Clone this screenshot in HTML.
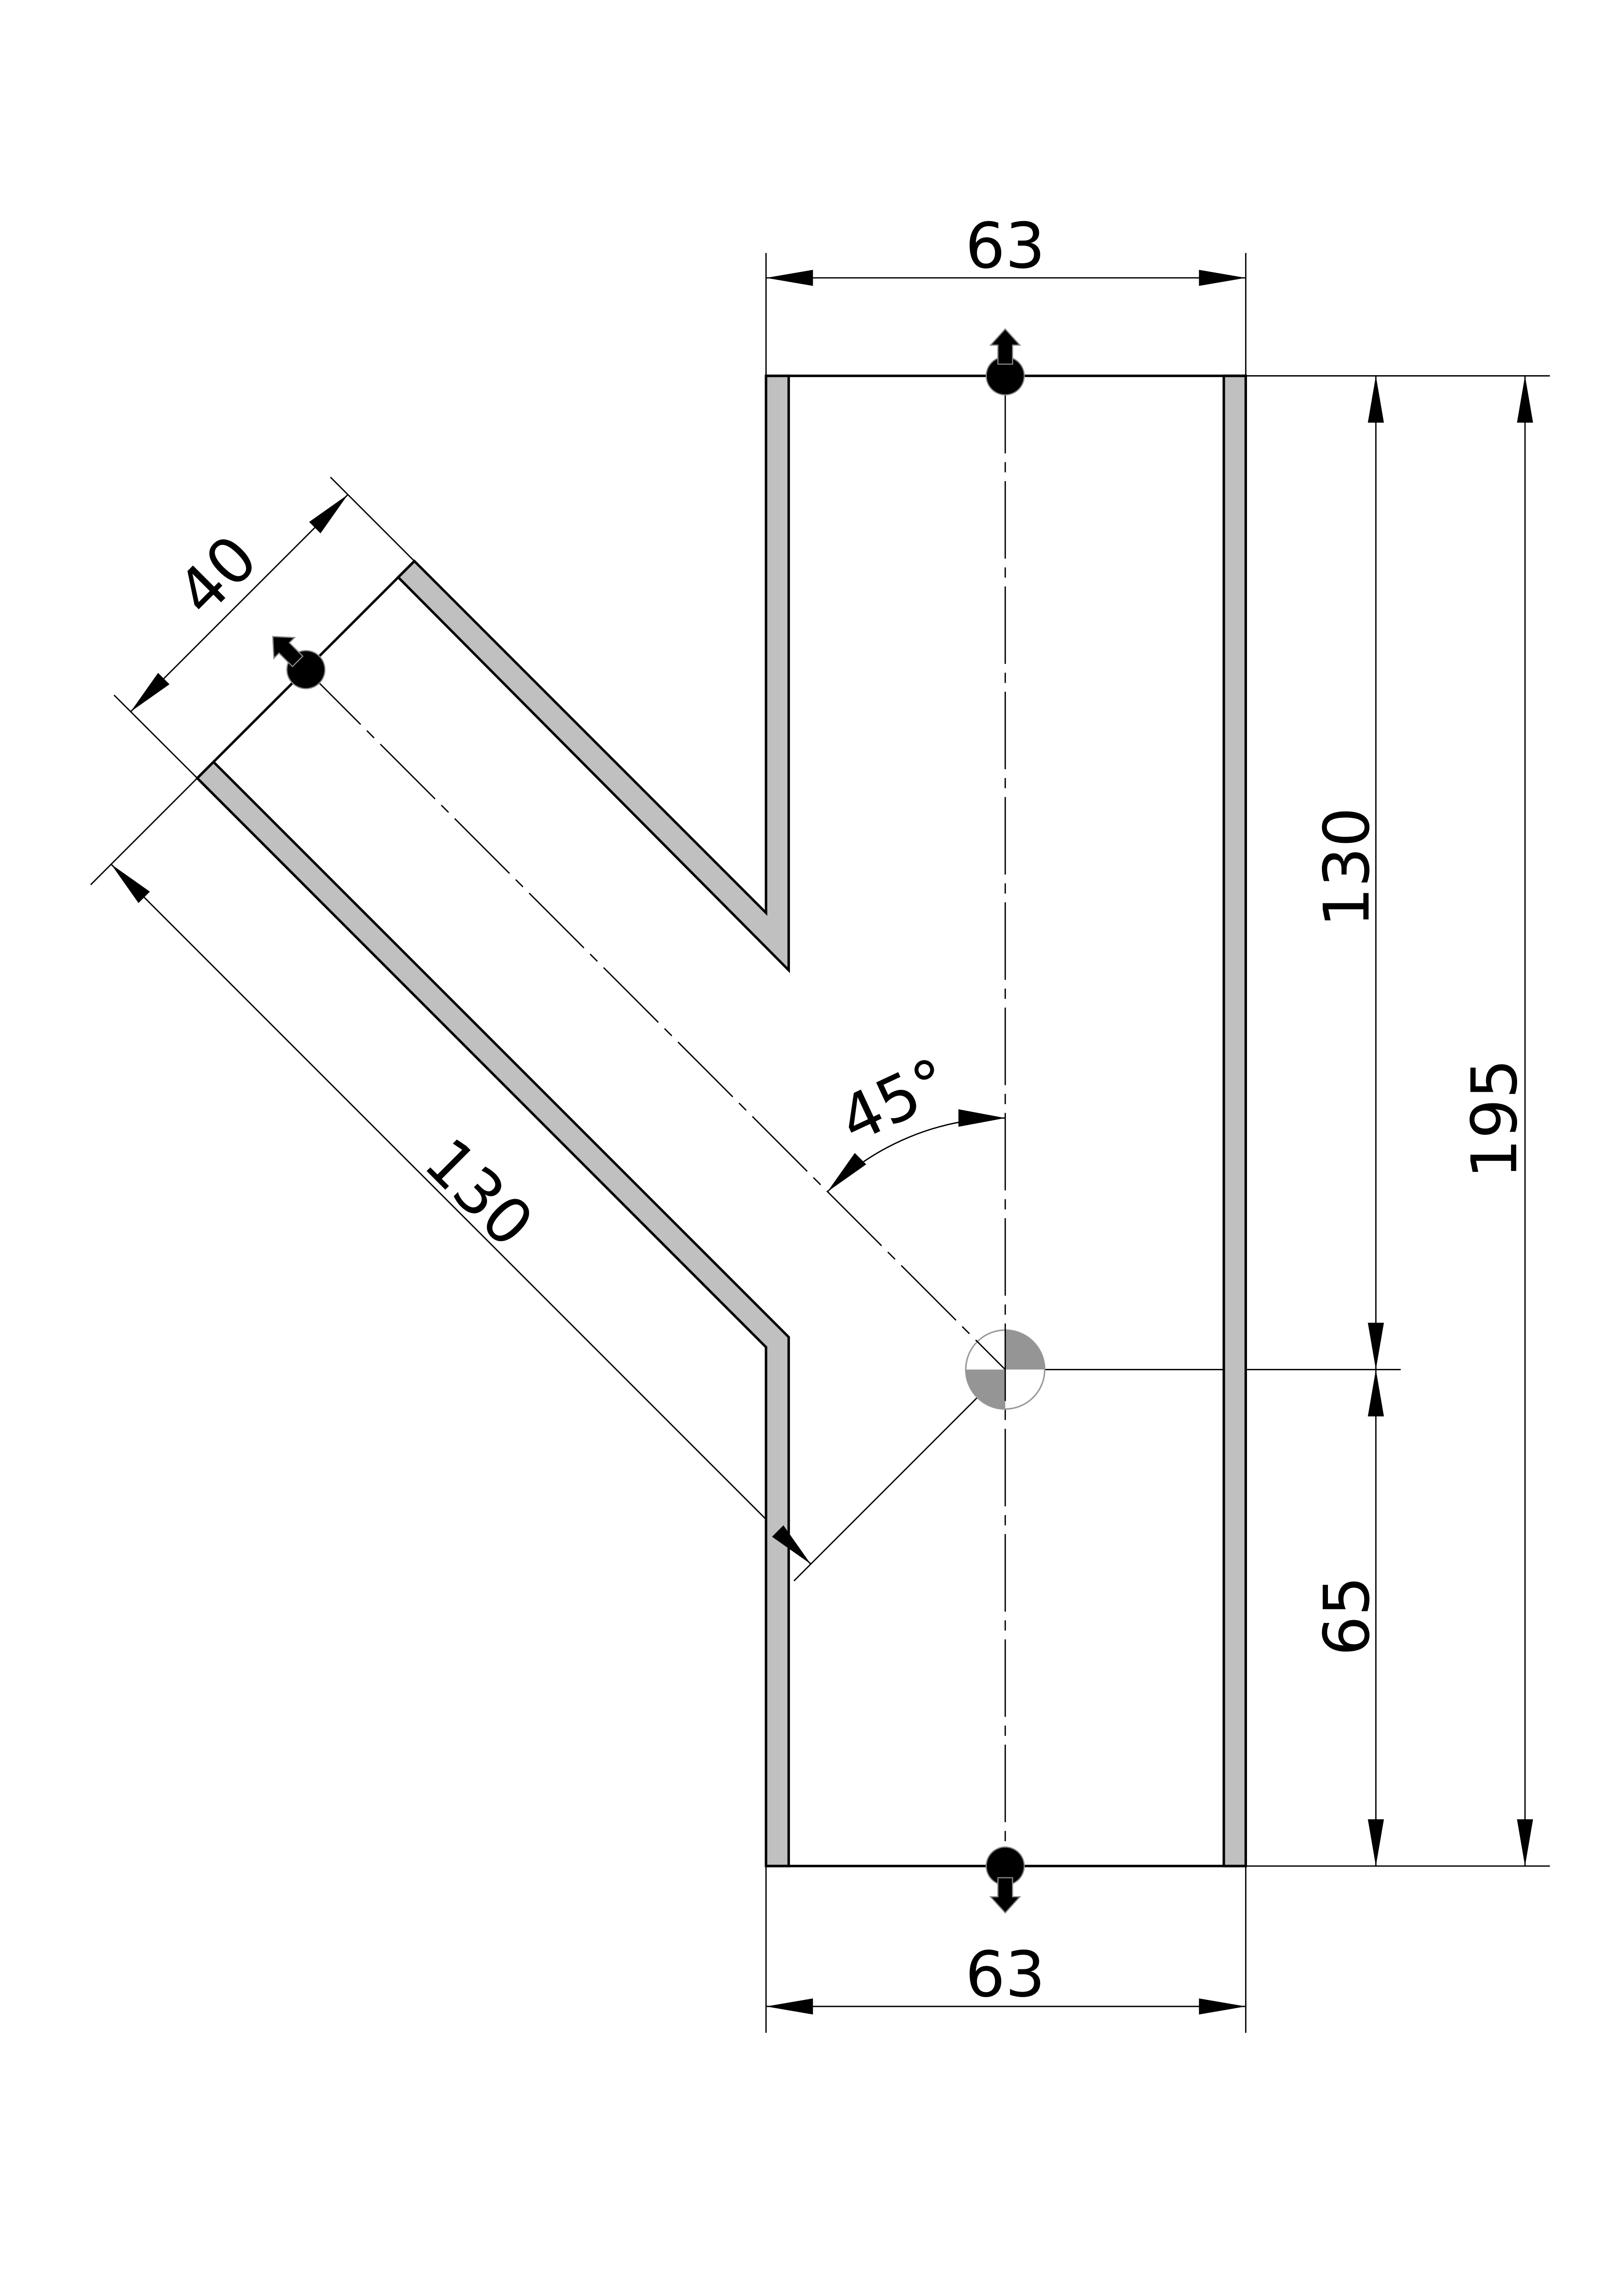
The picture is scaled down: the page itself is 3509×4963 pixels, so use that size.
<!DOCTYPE html>
<html><head><meta charset="utf-8"><style>
html,body{margin:0;padding:0;background:#fff;}
svg{display:block;}
text{font-family:"DejaVu Sans","Liberation Sans",sans-serif;font-size:43px;fill:#000;}
</style></head><body>
<svg width="3509" height="4963" viewBox="0 0 1110 1570" xmlns="http://www.w3.org/2000/svg">
<rect width="1110" height="1570" fill="#fff"/>
<g stroke="#000" stroke-width="0.9" fill="none">
<line x1="523.9" y1="173" x2="523.9" y2="257"/>
<line x1="852" y1="173" x2="852" y2="257"/>
<line x1="523.9" y1="1276" x2="523.9" y2="1390"/>
<line x1="852" y1="1276" x2="852" y2="1390"/>
<line x1="852" y1="257" x2="1060" y2="257"/>
<line x1="852" y1="1276" x2="1060" y2="1276"/>
<line x1="687.5" y1="936.5" x2="958" y2="936.5"/>
<line x1="523.9" y1="190" x2="852" y2="190"/>
<line x1="523.9" y1="1372" x2="852" y2="1372"/>
<line x1="941" y1="257" x2="941" y2="1276"/>
<line x1="1043" y1="257" x2="1043" y2="1276"/>
<line x1="283.4" y1="383.7" x2="226" y2="326.3"/>
<line x1="134.9" y1="532.1" x2="78" y2="475.3"/>
<line x1="89.4" y1="486.6" x2="237.9" y2="338.2"/>
<line x1="134.9" y1="532.1" x2="62" y2="605"/>
<line x1="687.5" y1="936.5" x2="543" y2="1081"/>
<line x1="76" y1="591" x2="554.5" y2="1069.5"/>
<path d="M565.9 814.9 A172 172 0 0 1 687.5 764.5"/>
</g>
<circle cx="687.5" cy="936.5" r="27" fill="#fff" stroke="#999" stroke-width="1"/>
<path d="M687.5 936.5 L687.5 909.5 A27 27 0 0 1 714.5 936.5 Z" fill="#959595"/>
<path d="M687.5 936.5 L660.5 936.5 A27 27 0 0 0 687.5 963.5 Z" fill="#959595"/>
<g stroke="#000" stroke-width="0.9" fill="none" stroke-dasharray="53 6 7 6">
<line x1="687.5" y1="257" x2="687.5" y2="1276"/>
<line x1="209.2" y1="457.9" x2="687.5" y2="936.5"/>
</g>
<g fill="#c0c0c0" stroke="#000" stroke-width="1.7" stroke-linejoin="miter">
<polygon points="523.9,257 539.4,257 539.4,663.4 272.3,394.7 283.4,383.7 523.9,624.2"/>
<polygon points="134.9,532.1 523.9,921.2 523.9,1276 539.4,1276 539.4,914.3 146,521"/>
<rect x="837" y="257" width="15" height="1019"/>
</g>
<g stroke="#000" stroke-width="1.7" fill="none">
<line x1="523.9" y1="257" x2="852" y2="257"/>
<line x1="523.9" y1="1276" x2="852" y2="1276"/>
<line x1="134.9" y1="532.1" x2="283.4" y2="383.7"/>
</g>
<g fill="#000">
<polygon points="523.9,190 556,184.5 556,195.5"/>
<polygon points="852,190 820,184.5 820,195.5"/>
<polygon points="523.9,1372 556,1366.5 556,1377.5"/>
<polygon points="852,1372 820,1366.5 820,1377.5"/>
<polygon points="941,257 935.5,289 946.5,289"/>
<polygon points="941,936.5 935.5,904.5 946.5,904.5"/>
<polygon points="941,936.5 935.5,968.5 946.5,968.5"/>
<polygon points="941,1276 935.5,1244 946.5,1244"/>
<polygon points="1043,257 1037.5,289 1048.5,289"/>
<polygon points="1043,1276 1037.5,1244 1048.5,1244"/>
<polygon points="237.9,338.2 211.4,356.9 219.2,364.7"/>
<polygon points="89.4,486.6 108.1,460.1 115.9,467.9"/>
<polygon points="76,591 102.5,609.7 94.7,617.5"/>
<polygon points="554.5,1069.5 535.8,1043 528,1050.8"/>
<polygon points="687.5,764.5 655.5,758.5 655.5,770.5"/>
<polygon points="565.9,814.9 592.4,796.2 584.6,788.4"/>
</g>
<defs>
<g id="port">
<circle cx="0" cy="0" r="13" fill="#000" stroke="#888" stroke-width="0.8"/>
<polygon points="-5,-8 -5,-21 -10,-21 0,-32 10,-21 5,-21 5,-8" fill="#000" stroke="#888" stroke-width="0.8"/>
</g>
</defs>
<use href="#port" transform="translate(687.5,257)"/>
<use href="#port" transform="translate(687.5,1276) rotate(180)"/>
<use href="#port" transform="translate(209.2,457.9) rotate(-45)"/>
<text x="687.5" y="183" text-anchor="middle">63</text>
<text x="687.5" y="1365" text-anchor="middle">63</text>
<text x="936" y="593" text-anchor="middle" transform="rotate(-90 936 593)">130</text>
<text x="936" y="1105" text-anchor="middle" transform="rotate(-90 936 1105)">65</text>
<text x="1037" y="765" text-anchor="middle" transform="rotate(-90 1037 765)">195</text>
<text x="159" y="404" text-anchor="middle" transform="rotate(-45 159 404)">40</text>
<text x="317" y="826" text-anchor="middle" transform="rotate(45 317 826)">130</text>
<text x="618" y="766" text-anchor="middle" transform="rotate(-25 618 766)">45°</text>
</svg>
</body></html>
